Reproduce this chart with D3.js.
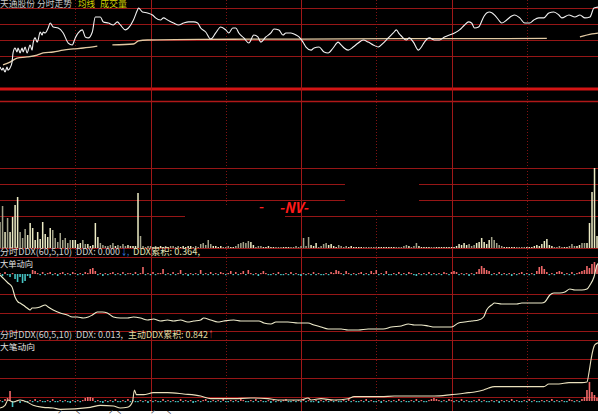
<!DOCTYPE html>
<html><head><meta charset="utf-8">
<script src="https://cdn.jsdelivr.net/npm/d3@7"></script>
<style>html,body{margin:0;padding:0;background:#fff;}svg{display:block;}</style>
</head><body><svg id="c" width="607" height="418"></svg>
<script>
// ---------- DATA ----------
// intraday minute index (0..240) and % change vs previous close
const priceTime = [0,0.8,1.2,2,2.8,3.2,4,4.8,5.2,6,6.8,7.2,8,8.8,9.2,10,10.8,12,12.8,13.2,14,14.8,15.2,16,16.8,17.2,18,19.2,20,21.2,23.2,25.2,27.2,28.8,30,31.2,32.8,34,35.2,36.8,38,40,41.2,43.2,45.2,46.8,48,50,51.2,53.2,54.8,55.2,56.8,58.8,60.8,62,64,65.2,66.8,69.2,71.2,73.2,75.2,77.2,78.8,
80,82,84,86,88,90,91.2,92.8,94,95.2,97.2,99.2,101.2,102.8,104,106,108,109.2,111.2,112.8,114,116,118,119.2,120.8,122,124,125.2,127.2,129.2,130.8,132.8,134.8,136,137.2,138.8,140.8,142.8,144.8,146.8,148.8,150.8,152.8,154.8,156.8,158,159.2,160,
162,163.2,164.8,166.8,168,169.2,171.2,173.2,175.2,177.2,179.2,181.2,183.2,185.2,186.8,188,189.2,190.8,192.8,194,195.2,197.2,198.8,200,202,204,205.2,207.2,209.2,211.2,212.8,214.8,216.8,218.8,220.8,222.8,224,226.8,229.2,231.2,233.2,235.2,236.8,238.8];
const pricePct = [-1.69,-1.88,-1.75,-2.00,-1.69,-1.88,-1.75,-1.38,-0.81,-0.50,-0.75,-0.50,-0.81,-0.50,-0.75,-0.44,-0.81,-0.31,-0.63,-0.19,0.13,-0.13,0.00,0.50,0.31,0.50,0.44,0.75,1.06,0.81,0.75,0.44,-0.19,-0.31,0.13,0.44,0.63,0.19,0.13,0.50,1.44,1.44,1.13,1.06,0.94,1.13,0.94,0.63,0.75,1.25,1.88,2.00,1.75,1.69,1.56,1.38,1.25,1.38,1.25,1.06,0.94,1.06,1.13,1.13,1.06,
0.75,0.50,0.06,0.44,0.81,0.63,0.44,0.75,0.75,0.44,0.13,-0.19,0.31,0.19,-0.13,0.19,0.44,0.69,0.63,0.31,0.44,0.44,0.31,0.19,-0.13,-0.44,-0.63,-0.50,-0.44,-0.75,-0.81,-0.50,-0.13,-0.31,-0.50,-0.63,-0.44,-0.19,0.00,-0.13,-0.31,-0.44,-0.19,0.13,0.44,0.63,0.38,0.25,
0.00,0.13,-0.13,-0.63,-0.44,-0.13,0.13,0.00,0.00,0.19,0.31,0.44,0.63,0.94,1.13,1.06,0.75,0.81,1.44,1.69,1.75,1.56,1.25,1.06,1.25,1.50,1.56,1.38,1.06,1.06,1.25,1.38,1.38,1.69,1.75,1.56,1.38,1.56,1.44,1.56,1.38,1.44,2.00,2.06];
const avgTime = [1.2,4,6.8,10.8,14.8,17.2,21.2,25.2,29.2,33.2,38.8,41,44.8,53.2,55.2,58.8,80,100,120,160,194,218,221,231.2,236,238.8];
const avgPct  = [-1.56,-1.38,-1.13,-1.06,-0.94,-0.81,-0.75,-0.63,-0.56,-0.50,-0.38,null,-0.31,-0.25,-0.06,0.00,0.04,0.05,0.06,0.08,0.08,0.10,null,0.19,0.38,0.44];
// volume per minute (hundreds of lots)
const volume = [26,42,16,30,16,31,43,51,16,10, 19,13,25,20,8,16,9,26,14,11, 20,18,10,6,15,8,10,5,8,8, 8,4,5,8,4,4,2,3,25,11,
5,3,2,2,3,5,2,3,2,4, 2,3,2,2,2,55,12,2,1,2, 2,1,2,1,2,1,2,1,2,2, 1,2,1,2,1,2,2,1,2,1,
4,5,3,8,4,2,2,1,2,1, 1,2,1,1,2,4,5,6,5,7, 6,3,1,2,2,1,1,2,1,1, 1,1,1,1,1,1,1,1,2,1,
2,10,2,11,3,2,5,1,2,4, 5,3,4,2,1,3,2,1,2,1, 2,1,1,1,1,1,1,1,1,1, 1,1,1,1,1,1,1,1,1,1,
1,2,3,2,1,2,5,2,1,1, 1,1,1,1,1,1,1,1,1,1, 1,1,2,4,3,5,3,4,2,3, 5,6,10,6,4,8,11,8,5,3,
2,1,1,1,1,1,1,1,1,1, 1,1,1,2,3,2,4,7,9,3, 2,1,1,2,1,1,1,2,4,2, 2,3,5,5,5,25,56,80,12,5];
// DDX per minute (x0.001)
const ddxBars = [1,-2,2,-1,-3,1, -5,-8,-3,-9,-7,-2,-4, 4,3,
1,-1,2,-1,1,2,-1,1,-2,1,2,-1,1,-1,2,1,-1,1,-1,2,1, 5,6,3,
-1,1,-2,1,-1,1,2,-1,1,-1,2,-1,1,1,-1,2,-1,1, 7, -1,1,-1,2,-1,1,1, 5, -1,1,-1,2,-1,1, 4, -1,1,-2,1,-1,1,-1, 4,
-1,1,-1,2,-1,1,-1,2,1,-1,1, 3, -1,2,-1,1, 3, -1,4, 1,-1,1,-2,1,3,1,-1,
-1,1,-1,2,-1,-1,1,-1,2,-1,1,-1,-2,1,-1,1,-1,2,-1,1,-1,-1,1,-1,2,1, 4, 3,1,-1,3,1,
-1,1,-1,1,2,-1,1,-1,3,1, 4,-1,1,-1,3,-1,
-1,1,-1,2,-1,1,-1,2,1,-1,-2,1,-1,1,-1,2,-1,1,-1,1,-1,2,1,-1, 2,3,2,-1, 1,-1,1,-2,1,-1,2, 5,8,6,4,3,
-1,1,-1,2,-1,1,-1,1,-2,1,-1,1,2,-1,1,-1,1,-1, 3,7,8,5,2,-1, 1,-1,2,3,2,-1,1,-1,2,-1,1,2,3, 4,8,6,10,12,9,5];
const ddxCumTime = [0,1.2,3.2,4.8,6,7.2,8,9.2,10.8,12,12.8,14,16,18,19.2,21.2,24,26.8,28.8,30.8,33.2,35.2,36.8,38.8,40.8,42.8,45.2,48,50.8,53.2,56,58.8,61.2,64,66.8,69.2,72,74.8,77.2,
80,81.2,84,86.8,89.2,93.2,96,100,103.2,105.2,108,110,114.8,118.8,122.8,125.2,128,130.8,133.2,136,138.8,142.8,146.8,149.2,152.8,156,160,
162.8,165.2,168,170.8,173.2,176,180,182.8,185.2,188,190.8,192.8,194,196,197.2,200,202.8,206,208,210,213.2,216,217.2,219.2,220.8,223.2,225.2,227.2,229.2,232,234,235.2,236.8,238,238.8];
const ddxCum = [0,-0.09,-0.24,-0.36,-0.66,-0.81,-0.84,-0.90,-0.99,-1.05,-0.99,-0.99,-0.96,-0.90,-0.96,-1.05,-1.14,-1.20,-1.26,-1.26,-1.29,-1.26,-1.20,-1.11,-1.11,-1.14,-1.26,-1.29,-1.29,-1.26,-1.29,-1.35,-1.32,-1.38,-1.35,-1.38,-1.35,-1.41,-1.38,
-1.35,-1.29,-1.35,-1.41,-1.38,-1.35,-1.38,-1.38,-1.38,-1.44,-1.47,-1.41,-1.41,-1.44,-1.44,-1.50,-1.56,-1.62,-1.62,-1.62,-1.65,-1.65,-1.62,-1.62,-1.62,-1.56,-1.53,
-1.47,-1.50,-1.50,-1.53,-1.56,-1.56,-1.56,-1.44,-1.41,-1.38,-1.35,-1.26,-1.05,-0.90,-0.84,-0.87,-0.87,-0.87,-0.84,-0.84,-0.84,-0.84,-0.81,-0.60,-0.54,-0.54,-0.51,-0.42,-0.45,-0.45,-0.42,-0.30,-0.06,0.30,0.36];
// big-order DDX per minute (x0.001)
const bigBars = [1,-1,2, 3,10, -6,
-1,1,-2,1,-1,-1,1,-1,2,-1,1,-1,-1,1,-1,2,-1,-1,1,-1,1,-1,-2,1,-1,1,-1,1, 3,4,4,3,
-1,1,-1,-2,1,-1,1,-1,2,-1,-1,1, -1,2,-1,1,-1,-1,1,-1,1,-2,1,-1, 1,-1,-1,2,-1,1,-1,1,-1,-1,2,-1, 1,-1,1,-2,-1,1,-1,1,2,-1,-1,1,
-1,1,-1,2,-1,-1,1,-1,1,-1,2,1, -1,-1,1,-1,2,-1,1,-1,-1,1,-2,1, -1,1,-1,1,2,-1,-1,1,-1,1,-1,2, -1,1,-1,-1,1,-2,1,-1,1,-1,1,-1,
1,-1,-1,1,-1,2,-1,1,-1,-1,1,-1, 2,-1,1,-1,-1,1,-2,1,-1,1,-1,1, -1,2,-1,1,-1,-1,1,-1,2,-1,1,-1, -1,1,2,3,2,1,-1,1,-1,2,1,-1,
1,-1,2,-1,1,-1,-1,1,-1,2,-1,1, -1,-1,1,-1,1,-2,1,-1,1,-1,2,-1, 1,-1,-1,1,-1,2,-1,1,-1,-1,1,-1, 1,-1,2,-1,1,-1,1,-1,-1,2,1,-1,
1,-1,2,4,11,19,9,6,3,1];
const bigCumTime = [0,2,3.2,5.2,8,10.8,13.2,17.2,21.2,24,36,40,45.2,48,50.8,52.8,53.6,54.4,57.2,61.2,66.8,73.2,80,84,93.2,100,106.8,110.8,114.8,120,122.8,124,128,133.2,138.8,141.2,146.8,152,157.2,160,166.8,173.2,180,182.8,186.8,189.2,192.8,194.8,197.2,202.8,208,213.2,216.8,218.8,222.8,226.8,232,234,234.8,235.6,236.4,237.2,238.8];
const bigCum = [-0.12,-0.08,0,-0.03,0,-0.03,-0.08,-0.11,-0.12,-0.14,-0.11,-0.08,-0.09,-0.12,-0.11,-0.03,0.15,0.08,0.08,0.11,0.11,0.09,0.06,0.02,0.02,0.03,0.02,0,0,0,0.03,0,0.02,0,0.02,0.05,0.05,0.05,0.06,0.06,0.06,0.06,0.08,0.09,0.11,0.12,0.15,0.18,0.20,0.20,0.20,0.20,0.20,0.24,0.24,0.26,0.26,0.27,0.41,0.60,0.75,0.83,0.86];
const timeTicks = [30,60,90,120,150,180,210];
const titleParts = ["天通股份 分时走势","均线","成交量"];
const ddxLabel = ["分时DDX(60,5,10)","DDX: 0.000","↓,","DDX累积: 0.364,","大单动向"];
const bigLabel = ["分时DDX(60,5,10)","DDX: 0.013,","主动DDX累积: 0.842","↑","大笔动向"];

// ---------- CHART ----------
const svg = d3.select("#c");
const PW = 598, PH = 411;
svg.append("rect").attr("width",607).attr("height",418).attr("fill","#fff");
svg.append("defs").append("clipPath").attr("id","clip").append("rect").attr("width",PW).attr("height",PH);
svg.append("rect").attr("width",PW).attr("height",PH).attr("fill","#000");
const g = svg.append("g").attr("clip-path","url(#clip)");

const x = d3.scaleLinear().domain([0,240]).range([0,602]);
const yP = d3.scaleLinear().domain([-2,2]).range([72,8]);
const yV = d3.scaleLinear().domain([0,80]).range([248,168]);
const yD = d3.scaleLinear().domain([-20,20]).range([294,254]);
const yDc = d3.scaleLinear().domain([0,-1.8]).range([275,335]);
const yB = d3.scaleLinear().domain([-20,20]).range([421,381]);
const yBc = d3.scaleLinear().domain([0,0.9]).range([400,340]);

const gridC = "#961616";
const hLines = [...[2,1,0,-1].map(yP), ...[80,64,48,32,0].map(yV), 257, 294, 313, 331, 340, 359, 378, 397];
g.selectAll(".hl").data(hLines).join("line").attr("x1",0).attr("x2",PW)
  .attr("y1",d=>d+0.5).attr("y2",d=>d+0.5).attr("stroke",gridC).attr("stroke-width",1);
g.append("line").attr("x1",0).attr("x2",PW).attr("y1",89).attr("y2",89).attr("stroke","#d41414").attr("stroke-width",3);
g.append("line").attr("x1",0).attr("x2",PW).attr("y1",101.5).attr("y2",101.5).attr("stroke","#b01818").attr("stroke-width",1.5);
g.selectAll(".vl").data(timeTicks).join("line")
  .attr("x1",d=>Math.round(x(d))+0.5).attr("x2",d=>Math.round(x(d))+0.5).attr("y1",0).attr("y2",PH)
  .attr("stroke",d=>d%60===0?"#a01818":"#801212").attr("stroke-width",1)
  .attr("stroke-dasharray",d=>d%60===0?null:"1,2");

// black overlay patches seen in the volume panel
g.append("rect").attr("x",185).attr("y",205).attr("width",100).attr("height",36).attr("fill","#000");
g.append("rect").attr("x",345).attr("y",170).attr("width",74).attr("height",38).attr("fill","#000");

// price interpolation for up/down colouring of volume
const priceAt = t => { const i = d3.bisectRight(priceTime,t); if(i<=0) return pricePct[0]; if(i>=priceTime.length) return pricePct[pricePct.length-1];
  const t0=priceTime[i-1],t1=priceTime[i]; return pricePct[i-1]+(pricePct[i]-pricePct[i-1])*(t-t0)/(t1-t0); };

// volume bars
g.selectAll(".vb").data(volume).join("rect")
  .attr("x",(d,i)=>x(i)-0.7).attr("width",1.5)
  .attr("y",d=>yV(d)).attr("height",d=>yV(0)-yV(d))
  .attr("fill",(d,i)=> priceAt(i+0.5) >= priceAt(i-0.5) ? "#ecebc4" : "#a3a38a");

// DDX bars
const barRect = (sel, data, ys, cls) => sel.selectAll("."+cls).data(data).join("rect")
  .attr("x",(d,i)=>x(i)-0.8).attr("width",1.6)
  .attr("y",d=> d>0 ? ys(d) : ys(0))
  .attr("height",d=> Math.max(1.2, Math.abs(ys(d)-ys(0))))
  .attr("fill",d=> d>0 ? "#f06868" : "#46c4c4");
barRect(g, ddxBars, yD, "db");
barRect(g, bigBars, yB, "bb");

// lines
const mk = (ts, vs) => ts.map((t,i)=>({t, v: vs[i]}));
const lineGen = ys => d3.line().defined(d=>d.v!=null).x(d=>x(d.t)).y(d=>ys(d.v)).curve(d3.curveMonotoneX);
g.append("path").datum(mk(avgTime,avgPct)).attr("d",lineGen(yP)).attr("fill","none").attr("stroke","#e2c9a2").attr("stroke-width",1.3);
g.append("path").datum(mk(priceTime,pricePct)).attr("d",lineGen(yP)).attr("fill","none").attr("stroke","#f2f2f2").attr("stroke-width",1.1);
g.append("path").datum(mk(ddxCumTime,ddxCum)).attr("d",lineGen(yDc)).attr("fill","none").attr("stroke","#efeccc").attr("stroke-width",1.1);
g.append("path").datum(mk(bigCumTime,bigCum)).attr("d",lineGen(yBc)).attr("fill","none").attr("stroke","#eae0bc").attr("stroke-width",1.1);

// texts
const F = "'Noto Sans CJK SC','Noto Sans',sans-serif";
const txt = (s, xx, yy, tl, fill, size) => g.append("text").attr("x",xx).attr("y",yy).text(s)
  .attr("font-family",F).attr("font-size",size||9).attr("fill",fill)
  .attr("textLength",tl).attr("lengthAdjust","spacingAndGlyphs");
txt(titleParts[0], 0, 7, 72, "#c8c8c8");
txt(titleParts[1], 78, 7, 17, "#d4d400");
txt(titleParts[2], 100, 7, 27, "#d4d400");
txt(ddxLabel[0], 0, 255, 72, "#d2d2d2");
txt(ddxLabel[1], 76, 255, 44, "#d2d2d2");
txt(ddxLabel[2], 121, 255, 8, "#3c8cff");
txt(ddxLabel[3], 133, 255, 67, "#e2e0b4");
txt(ddxLabel[4], 0, 267, 33, "#e0e0e0", 8.5);
txt(bigLabel[0], 0, 338, 72, "#d2d2d2");
txt(bigLabel[1], 76, 338, 47, "#d2d2d2");
txt(bigLabel[2], 128, 338, 80, "#e2dca0");
txt(bigLabel[3], 209, 338, 4, "#ff6060");
txt(bigLabel[4], 0, 350, 35, "#e0e0e0", 8.5);

// red "NV" marker
txt("-", 259, 211, 5, "#ff2020", 12).attr("font-weight","bold");
txt("-NV-", 279, 213, 29, "#ff1a1a", 15).attr("font-weight","bold").attr("font-style","italic");

// small marks in the white strip at the bottom
const marks = [["ˊ",57],["ˋ",75],["ˊ",108],["ˋ",116],["ˊ",150],["ˋ",166]];
svg.selectAll(".mk").data(marks).join("text").attr("x",d=>d[1]).attr("y",419).text(d=>d[0])
  .attr("font-family",F).attr("font-size",10).attr("fill","#555");
</script></body></html>
